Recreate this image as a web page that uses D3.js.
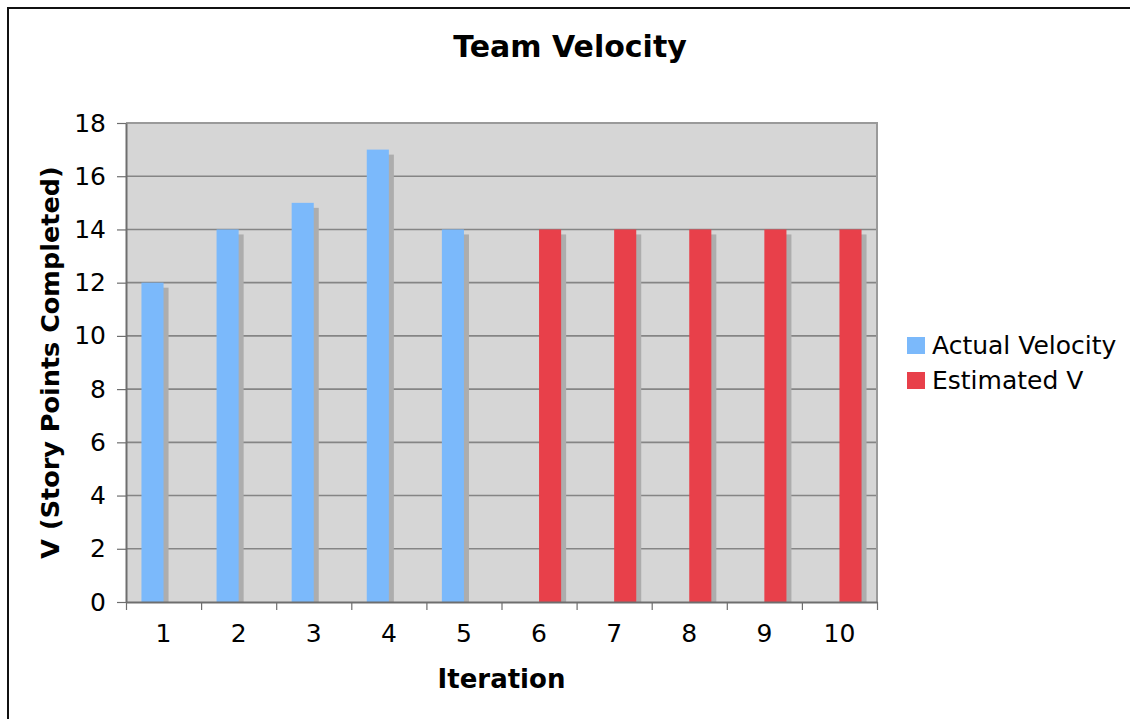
<!DOCTYPE html>
<html>
<head>
<meta charset="utf-8">
<script src="https://cdn.jsdelivr.net/npm/d3@7"></script>
<style>
    body { margin: 0; background: #fff; }
    text { font-family: "DejaVu Sans", Verdana, sans-serif; }
</style>
</head>
<body>
<svg id="drawing_region"></svg>
<script>
// chart data
const iterations = ['1', '2', '3', '4', '5', '6', '7', '8', '9', '10'];
const actualVelocity = [12, 14, 15, 17, 14, null, null, null, null, null];
const estimatedV = [null, null, null, null, null, 14, 14, 14, 14, 14];
const seriesNames = ['Actual Velocity', 'Estimated V'];
const seriesColors = ['#7bb9fb', '#e8404a'];
const yTicks = [0, 2, 4, 6, 8, 10, 12, 14, 16, 18];

const config = {
    parent: '#drawing_region',
    width: 1130,
    height: 719,
    margin: { top: 123, right: 253, bottom: 117, left: 126 }
};

const svg = d3.select(config.parent)
    .attr('width', config.width)
    .attr('height', config.height);

// outer frame (runs off the right and bottom edge)
svg.append('rect')
    .attr('x', 8).attr('y', 8)
    .attr('width', config.width + 20).attr('height', config.height + 20)
    .attr('fill', 'none')
    .attr('stroke', '#111')
    .attr('stroke-width', 2);

const inner_width = config.width - config.margin.left - config.margin.right;
const inner_height = config.height - config.margin.top - config.margin.bottom;

const chart = svg.append('g')
    .attr('transform', `translate(${config.margin.left},${config.margin.top})`);

const xscale = d3.scaleBand()
    .domain(iterations)
    .range([0, inner_width]);

const xsub = d3.scaleBand()
    .domain(seriesNames)
    .range([0, xscale.bandwidth()])
    .paddingInner(0)
    .paddingOuter(0.7);

const xedge = d3.scaleLinear()
    .domain([0, iterations.length])
    .range([0, inner_width]);

const yscale = d3.scaleLinear()
    .domain([0, 18])
    .range([inner_height, 0]);

// plot background
chart.append('rect')
    .attr('width', inner_width)
    .attr('height', inner_height)
    .attr('fill', '#d6d6d6');

// gridlines
chart.append('g')
    .selectAll('line')
    .data(yTicks.filter(d => d > 0 && d < 18))
    .join('line')
    .attr('x1', 0).attr('x2', inner_width)
    .attr('y1', d => yscale(d)).attr('y2', d => yscale(d))
    .attr('stroke', '#858585')
    .attr('stroke-width', 1.6);

// plot border top/right
chart.append('path')
    .attr('d', `M0,${yscale(18)}H${inner_width}V${inner_height}`)
    .attr('fill', 'none')
    .attr('stroke', '#9a9a9a')
    .attr('stroke-width', 2);

const rows = [];
iterations.forEach((it, i) => {
    [actualVelocity[i], estimatedV[i]].forEach((v, s) => {
        if (v != null) rows.push({ it: it, series: seriesNames[s], value: v, color: seriesColors[s] });
    });
});

const shadowOff = 5;

// bar shadows
chart.append('g')
    .selectAll('rect')
    .data(rows)
    .join('rect')
    .attr('x', d => xscale(d.it) + xsub(d.series) + shadowOff)
    .attr('y', d => yscale(d.value) + shadowOff)
    .attr('width', xsub.bandwidth())
    .attr('height', d => inner_height - yscale(d.value) - shadowOff)
    .attr('fill', '#adadad');

// bars
chart.append('g')
    .selectAll('rect')
    .data(rows)
    .join('rect')
    .attr('x', d => xscale(d.it) + xsub(d.series))
    .attr('y', d => yscale(d.value))
    .attr('width', xsub.bandwidth())
    .attr('height', d => inner_height - yscale(d.value))
    .attr('fill', d => d.color);

// y axis
const yaxis = d3.axisLeft(yscale)
    .tickValues(yTicks)
    .tickSize(9)
    .tickPadding(11)
    .tickSizeOuter(0);
const yaxis_group = chart.append('g').call(yaxis);
yaxis_group.select('.domain').attr('stroke', '#6e6e6e').attr('stroke-width', 2);
yaxis_group.selectAll('.tick line').attr('stroke', '#6e6e6e').attr('stroke-width', 1.2);
yaxis_group.selectAll('.tick text')
    .attr('font-size', 25)
    .attr('fill', '#000')
    .style('font-family', '"DejaVu Sans", Verdana, sans-serif');

// x axis: tick marks at category edges
const xedge_axis = d3.axisBottom(xedge)
    .tickValues(d3.range(iterations.length + 1))
    .tickFormat('')
    .tickSize(8)
    .tickSizeOuter(0);
const xedge_group = chart.append('g')
    .attr('transform', `translate(0,${inner_height})`)
    .call(xedge_axis);
xedge_group.select('.domain').attr('stroke', '#6e6e6e').attr('stroke-width', 2);
xedge_group.selectAll('.tick line').attr('stroke', '#6e6e6e').attr('stroke-width', 1.2);

// x axis labels at category centres
const xaxis = d3.axisBottom(xscale).tickSize(0).tickPadding(22);
const xaxis_group = chart.append('g')
    .attr('transform', `translate(0,${inner_height})`)
    .call(xaxis);
xaxis_group.select('.domain').remove();
xaxis_group.selectAll('.tick text')
    .attr('font-size', 25)
    .attr('fill', '#000')
    .style('font-family', '"DejaVu Sans", Verdana, sans-serif');

// titles
svg.append('text')
    .attr('x', 570).attr('y', 57)
    .attr('text-anchor', 'middle')
    .attr('font-size', 30)
    .attr('font-weight', 'bold')
    .text('Team Velocity');

svg.append('text')
    .attr('x', config.margin.left + inner_width / 2).attr('y', 688)
    .attr('text-anchor', 'middle')
    .attr('font-size', 26)
    .attr('font-weight', 'bold')
    .text('Iteration');

svg.append('text')
    .attr('transform', `translate(59,${config.margin.top + inner_height / 2}) rotate(-90)`)
    .attr('text-anchor', 'middle')
    .attr('font-size', 25.5)
    .attr('font-weight', 'bold')
    .text('V (Story Points Completed)');

// legend
const legend = svg.append('g')
    .attr('transform', 'translate(907,337)');
const item = legend.selectAll('g')
    .data(seriesNames)
    .join('g')
    .attr('transform', (d, i) => `translate(0,${i * 35})`);
item.append('rect')
    .attr('width', 18).attr('height', 17)
    .attr('fill', (d, i) => seriesColors[i]);
item.append('text')
    .attr('x', 25).attr('y', 17)
    .attr('font-size', 25)
    .attr('fill', '#000')
    .text(d => d);
</script>
</body>
</html>
